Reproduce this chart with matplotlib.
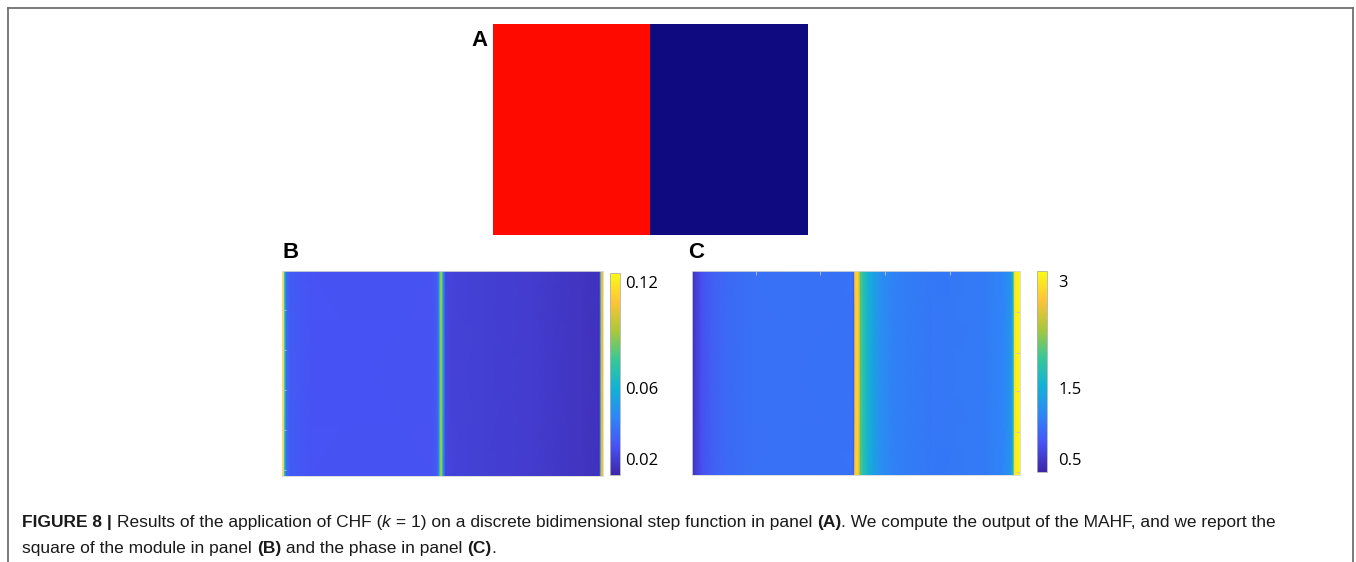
import matplotlib
matplotlib.use("Agg")
import matplotlib.pyplot as plt
import numpy as np
from matplotlib.colors import LinearSegmentedColormap, ListedColormap
from matplotlib.lines import Line2D

# ---------------- data ----------------
# Panel A: discrete bidimensional step function (left half = 1, right half = 0)
a_step_values = [1, 0]
a_colors = ["#100a80", "#ff0a00"]

# Panel B: square of the module, column profile (constant along rows)
b_col_x = [0, 2, 3, 4.5, 8, 30, 150, 155, 157, 158, 158.7, 160, 160.7, 162, 163.5, 170, 200,
           250, 300, 317, 318.5, 319.3, 321]
b_col_values = [0.12, 0.118, 0.06, 0.035, 0.030, 0.0275, 0.0270, 0.030, 0.042, 0.075, 0.09,
                0.09, 0.07, 0.04, 0.023, 0.021, 0.0205, 0.019, 0.0165, 0.0155, 0.04, 0.10, 0.105]
b_ticks = [0.02, 0.06, 0.12]
b_tick_labels = ["0.02", "0.06", "0.12"]
b_range = (0.0107, 0.125)

# Panel C: phase, column profile
c_col_x = [0, 4, 10, 20, 35, 60, 160, 162, 163, 166, 167, 168.5, 172, 176, 182, 190, 205,
           240, 290, 310, 319, 321, 322.5, 324, 328]
c_col_values = [0.42, 0.55, 0.7, 0.82, 0.9, 0.95, 0.97, 0.8, 2.75, 2.85, 2.6, 2.0, 1.75, 1.55,
                1.35, 1.18, 1.07, 1.0, 1.02, 1.1, 1.25, 1.6, 2.9, 3.05, 3.08]
c_ticks = [0.5, 1.5, 3]
c_tick_labels = ["0.5", "1.5", "3"]
c_range = (0.313, 3.139)

panel_labels = ["A", "B", "C"]

caption_line1 = [("FIGURE 8 | ", "bold", "normal"),
                 ("Results of the application of CHF (", "normal", "normal"),
                 ("k", "normal", "italic"),
                 (" = 1) on a discrete bidimensional step function in panel ", "normal", "normal"),
                 ("(A)", "bold", "normal"),
                 (". We compute the output of the MAHF, and we report the", "normal", "normal")]
caption_line2 = [("square of the module in panel ", "normal", "normal"),
                 ("(B)", "bold", "normal"),
                 (" and the phase in panel ", "normal", "normal"),
                 ("(C)", "bold", "normal"),
                 (".", "normal", "normal")]

# parula-like colormap
parula_anchors = [(0.2422, 0.1504, 0.6603), (0.2810, 0.3228, 0.9579), (0.1786, 0.5289, 0.9682),
                  (0.0689, 0.6948, 0.8394), (0.2161, 0.7843, 0.5923), (0.6720, 0.7793, 0.2227),
                  (0.9970, 0.7659, 0.2199), (0.9769, 0.9839, 0.0805)]
parula = LinearSegmentedColormap.from_list("parula", parula_anchors, N=256)

# ---------------- figure ----------------
W, H = 1356, 562
fig = plt.figure(figsize=(W / 100, H / 100), dpi=100)
fig.patch.set_facecolor("white")


def px_axes(x0, y0, x1, y1):
    return fig.add_axes([x0 / W, 1 - y1 / H, (x1 - x0) / W, (y1 - y0) / H])


# frame
fc = "#6f6f6f"
fig.add_artist(Line2D([8 / W, 1353 / W], [1 - 8 / H, 1 - 8 / H], transform=fig.transFigure, color=fc, lw=1.3))
fig.add_artist(Line2D([8 / W, 8 / W], [1 - 8 / H, 0], transform=fig.transFigure, color=fc, lw=1.3))
fig.add_artist(Line2D([1353 / W, 1353 / W], [1 - 8 / H, 0], transform=fig.transFigure, color=fc, lw=1.3))

# Panel A
axA = px_axes(493, 24, 808, 235)
axA.imshow(np.array([a_step_values]), cmap=ListedColormap(a_colors), aspect="auto",
           interpolation="nearest", vmin=0, vmax=1)
axA.set_xticks([]); axA.set_yticks([])
for s in axA.spines.values():
    s.set_visible(False)

label_font = dict(fontsize=16, fontweight="bold", family="Liberation Sans", color="black")
fig.text(488 / W, 1 - 41 / H, panel_labels[0], ha="right", va="center", **label_font)
fig.text(283 / W, 1 - 253 / H, panel_labels[1], ha="left", va="center", **label_font)
fig.text(688 / W, 1 - 253 / H, panel_labels[2], ha="left", va="center", **label_font)

tick_col = "#c4c4c4"


def column_mesh(ax, xs, vals, rng):
    X, Y = np.meshgrid(np.asarray(xs, float), [0.0, 1.0])
    C = np.vstack([vals, vals]).astype(float)
    m = ax.pcolormesh(X, Y, C, cmap=parula, vmin=rng[0], vmax=rng[1], shading="gouraud")
    ax.set_xlim(xs[0], xs[-1]); ax.set_ylim(0, 1)
    return m


# Panel B
axB = px_axes(282, 271, 603, 476)
meshB = column_mesh(axB, b_col_x, b_col_values, b_range)
axB.set_xticks([])
axB.set_yticks([0.03, 0.225, 0.42, 0.615, 0.81])
axB.tick_params(axis="y", direction="in", length=3, width=0.6, color=tick_col, labelleft=False)
for s in axB.spines.values():
    s.set_color("#d8d8d8"); s.set_linewidth(0.6)

caxB = px_axes(610, 273, 620, 475)
cbB = fig.colorbar(meshB, cax=caxB, ticks=b_ticks)
cbB.ax.set_yticklabels(b_tick_labels)
cbB.ax.tick_params(length=0, pad=4, labelsize=12)
for t in cbB.ax.get_yticklabels():
    t.set_family("Open Sans")
cbB.outline.set_edgecolor("#b0b0b0"); cbB.outline.set_linewidth(0.6)

# Panel C
axC = px_axes(692, 271, 1020, 475)
meshC = column_mesh(axC, c_col_x, c_col_values, c_range)
axC.xaxis.tick_top(); axC.yaxis.tick_right()
axC.set_xticks([64, 128, 193, 258])
axC.set_yticks([0.015, 0.21, 0.41, 0.60, 0.80])
axC.tick_params(direction="in", length=3, width=0.6, color=tick_col,
                labeltop=False, labelright=False, labelbottom=False, labelleft=False)
for s in axC.spines.values():
    s.set_color("#d8d8d8"); s.set_linewidth(0.6)

caxC = px_axes(1037, 271, 1047, 472)
cbC = fig.colorbar(meshC, cax=caxC, ticks=c_ticks)
cbC.ax.set_yticklabels(c_tick_labels)
cbC.ax.tick_params(length=0, pad=8, labelsize=12)
for t in cbC.ax.get_yticklabels():
    t.set_family("Open Sans")
cbC.outline.set_edgecolor("#b0b0b0"); cbC.outline.set_linewidth(0.6)

# ---------------- caption ----------------
renderer = fig.canvas.get_renderer()
cap_family = "Liberation Sans"
cap_color = "#1a1a1a"


def run_width(txt, weight, style, size):
    t = fig.text(0, 0, txt.replace(" ", "\u00a0"), fontsize=size, fontweight=weight,
                 fontstyle=style, family=cap_family)
    w = t.get_window_extent(renderer).width
    t.remove()
    return w


def line_width(runs, size):
    return sum(run_width(t, w, s, size) for t, w, s in runs)


base = 10.5
target = 1280 - 22
size = base * target / line_width(caption_line1, base)


def draw_runs(runs, x0, ybase, size):
    x = x0
    for txt, w, s in runs:
        fig.text(x / W, 1 - ybase / H, txt.replace(" ", "\u00a0"), fontsize=size, fontweight=w,
                 fontstyle=s, family=cap_family, color=cap_color, va="baseline", ha="left")
        x += run_width(txt, w, s, size)


draw_runs(caption_line1, 22, 527, size)
draw_runs(caption_line2, 22, 553, size)

fig.savefig("out.png", dpi=100, facecolor="white")
